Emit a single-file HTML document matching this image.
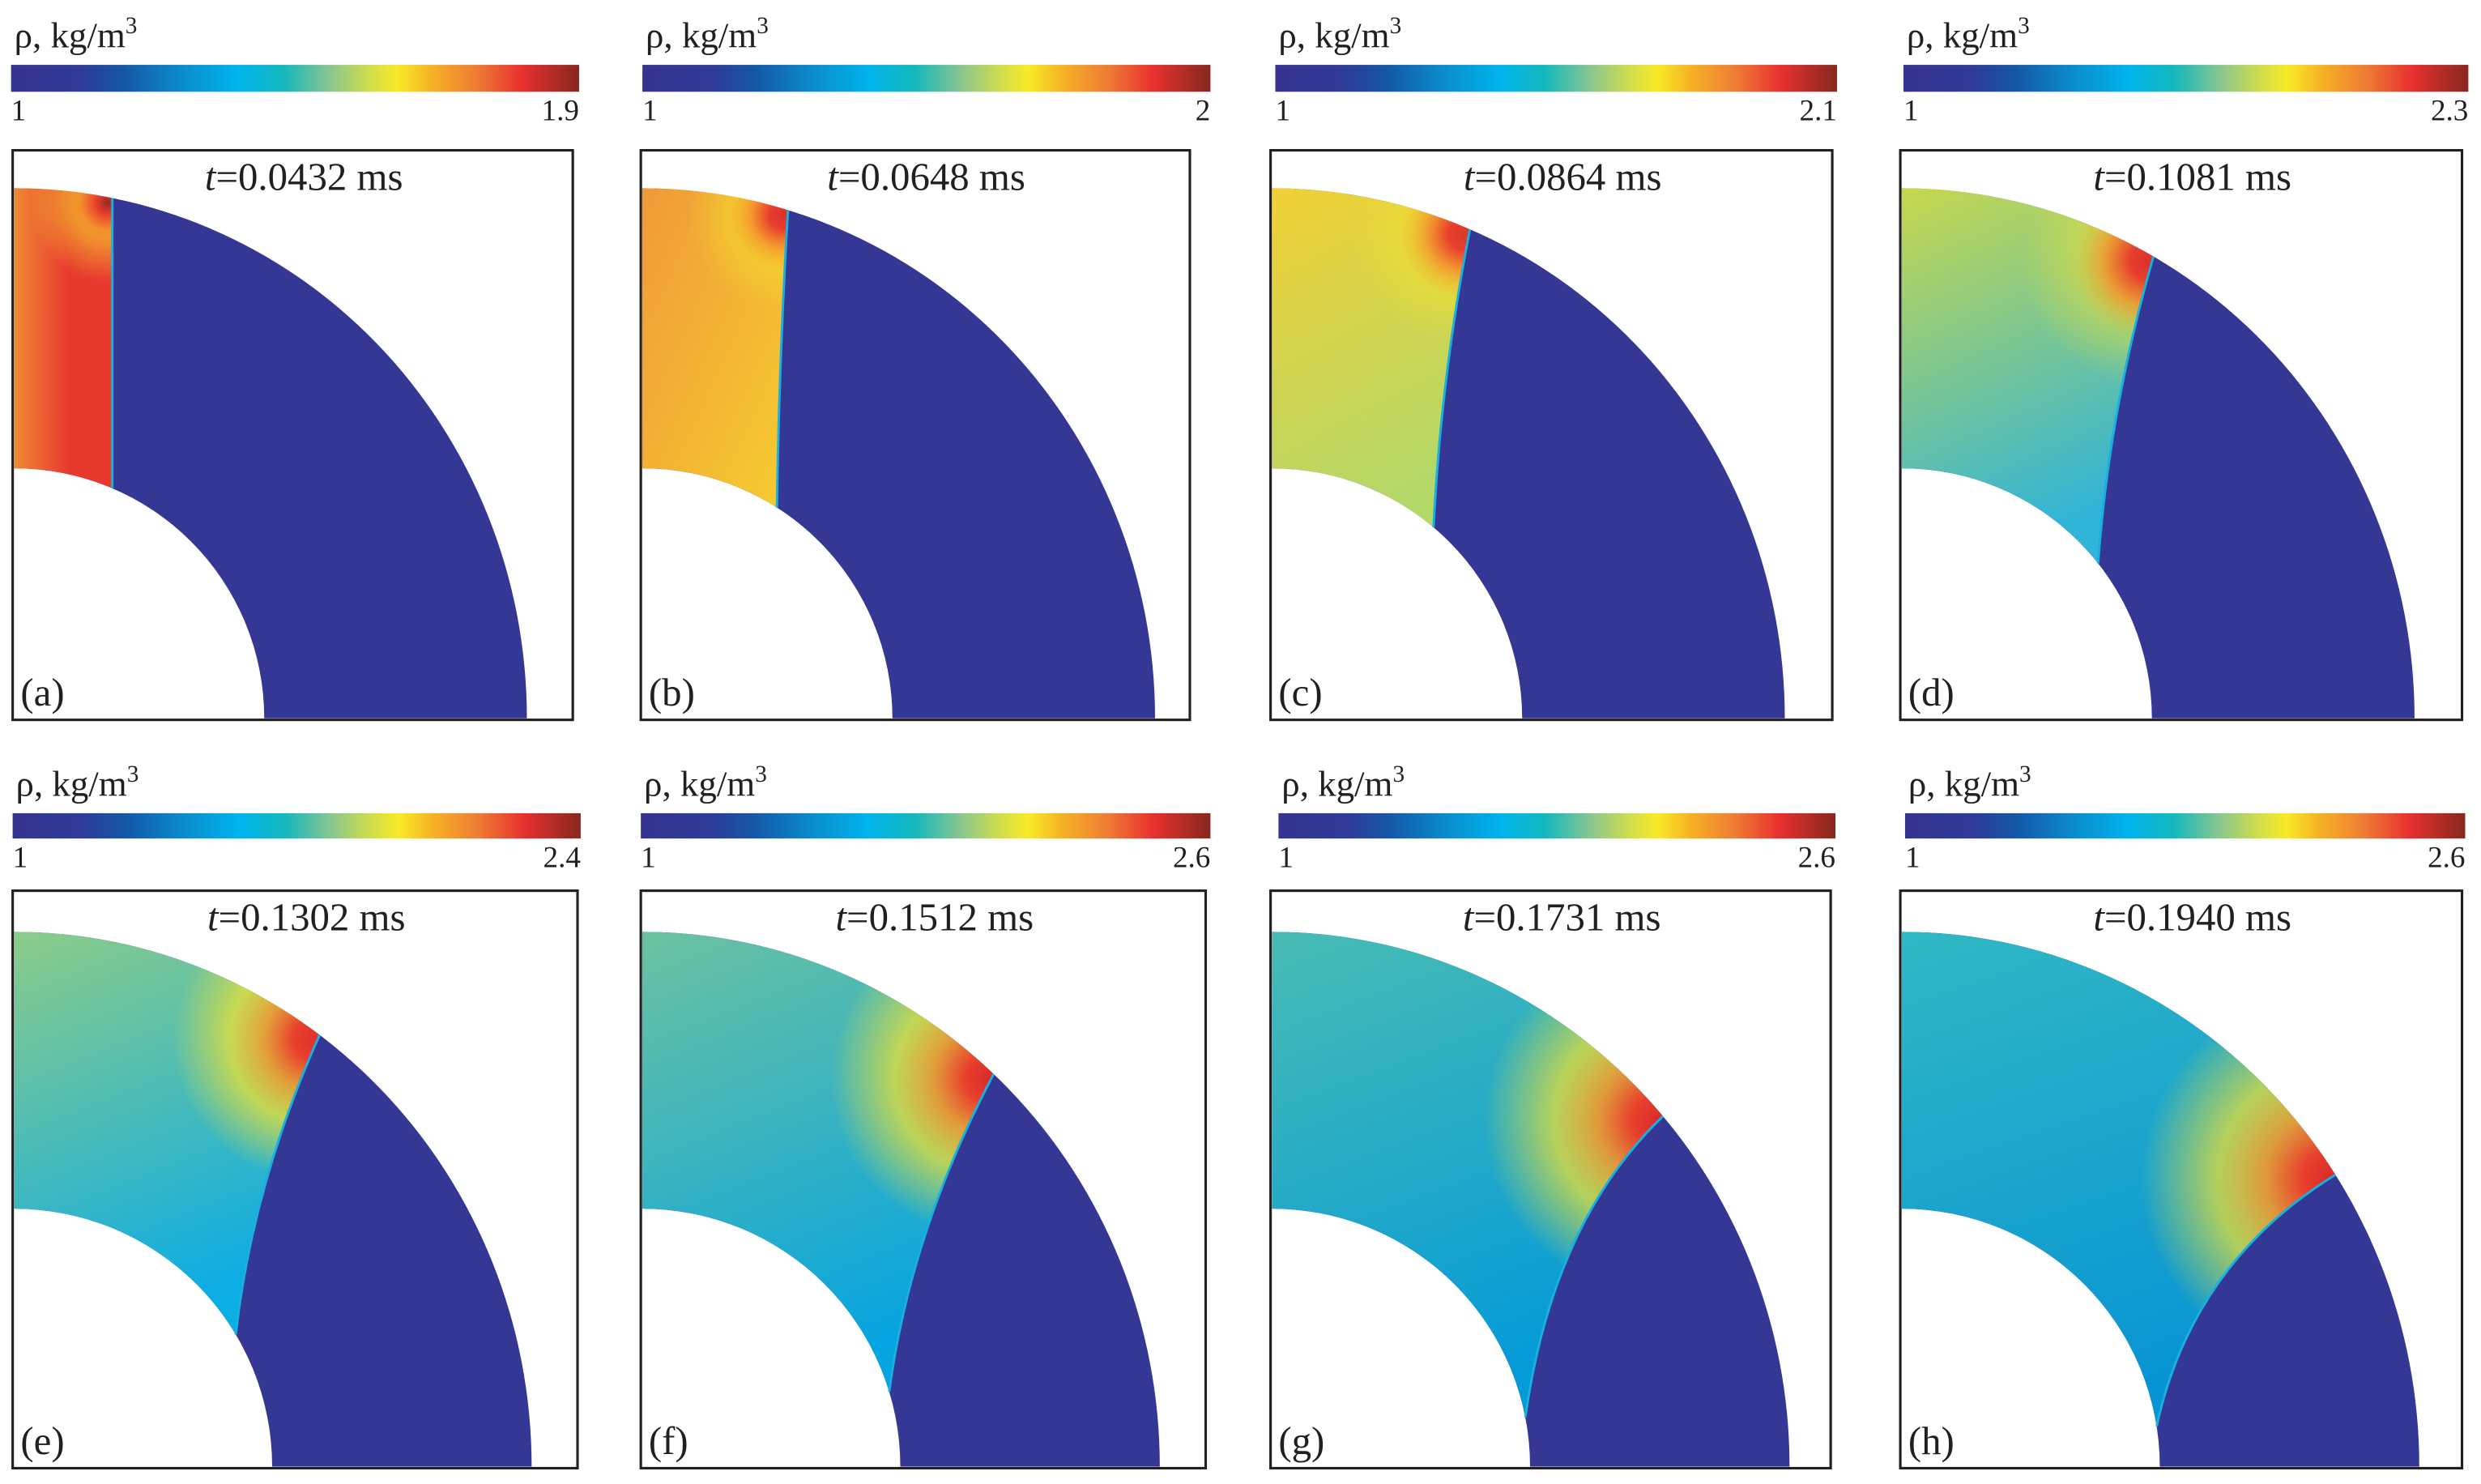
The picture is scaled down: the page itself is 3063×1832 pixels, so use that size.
<!DOCTYPE html>
<html><head><meta charset="utf-8"><style>
html,body{margin:0;padding:0;background:#fff;}
svg{display:block;}
svg text{font-family:"Liberation Serif","DejaVu Serif","Times New Roman",serif;}
</style></head><body>
<svg id="fig" xmlns="http://www.w3.org/2000/svg" width="3063" height="1832" viewBox="0 0 1568 938" preserveAspectRatio="none" style="font-family:'Liberation Serif','DejaVu Serif','Times New Roman',serif" fill="#231f20">
<defs>
<linearGradient id="jet" x1="0" y1="0" x2="1" y2="0">
<stop offset="0" stop-color="#35348f"/><stop offset="0.12" stop-color="#2f3a98"/><stop offset="0.2" stop-color="#1458a6"/>
<stop offset="0.3" stop-color="#0a8ccc"/><stop offset="0.4" stop-color="#00b4ec"/><stop offset="0.48" stop-color="#14b8bc"/>
<stop offset="0.56" stop-color="#88c690"/><stop offset="0.63" stop-color="#cfdd4c"/><stop offset="0.68" stop-color="#f8ea26"/>
<stop offset="0.74" stop-color="#f6b224"/><stop offset="0.82" stop-color="#ee7c34"/><stop offset="0.9" stop-color="#e8302e"/>
<stop offset="1" stop-color="#86281f"/>
</linearGradient>
</defs>
<g id="panels"></g>
</svg>
<script>
const labels=['(a)','(b)','(c)','(d)','(e)','(f)','(g)','(h)'];
const times=['0.0432','0.0648','0.0864','0.1081','0.1302','0.1512','0.1731','0.1940'];
const cbMin=['1','1','1','1','1','1','1','1'];
const cbMax=['1.9','2','2.1','2.3','2.4','2.6','2.6','2.6'];
const shockOuterDx=[62,92,125,159,193,222,247,274];
const shockInnerDx=[62,85,102,124,140,156,160,161];
const fieldTop=['#ef8a35','#f09a38','#f2d034','#c8d84c','#8ccc88','#6cc2a0','#48bcb4','#30b8c4'];
const fieldBottom=['#e8392f','#f6cc30','#b4d868','#30b4d8','#0cace4','#06a4e0','#049ad8','#0894d4'];
const hotColor=['#9a2626','#d8302c','#d83a2c','#d8302c','#e0302c','#d82a2a','#d82a2a','#d82a2a'];
const boxes=[[8,95,354,360],[405,95,347,360],[803,95,355,360],[1201,95,355,360],[8,563,357,365],[405,563,357,365],[803,563,354,365],[1201,563,355,365]];
const cbars=[[7,41,359,17],[406,41,359,17],[806,41,355,17],[1203,41,357,17],[8,514,359,16],[405,514,360,16],[808,514,352,16],[1204,514,354,16]];
const NS='http://www.w3.org/2000/svg';
const FONT="'Liberation Serif','DejaVu Serif','Times New Roman',serif";
const root=document.getElementById('panels');
const defs=document.querySelector('defs');
function mk(tag,attrs,parent){const e=document.createElementNS(NS,tag);for(const k in attrs)e.setAttribute(k,attrs[k]);if(tag==='text')e.setAttribute('style','font-family:'+FONT);(parent||root).appendChild(e);return e;}
for(let i=0;i<8;i++){
  const [bx,by,bw,bh]=boxes[i];const [cx0,cy0,cw,ch]=cbars[i];
  const g=mk('g',{});
  
  
  const lt=mk('text',{x:cx0+2,y:cy0-11,'font-size':23},g);
  lt.innerHTML='ρ, kg/m<tspan font-size="15" dy="-9">3</tspan>';
  
  
  const cb=mk('rect',{x:cx0,y:cy0,width:cw,height:ch,fill:'url(#jet)'},g);
  
  
  const t1=mk('text',{x:cx0,y:cy0+ch+18,'font-size':19},g);t1.textContent=cbMin[i];
  
  
  const t2=mk('text',{x:cx0+cw,y:cy0+ch+18,'font-size':19,'text-anchor':'end'},g);t2.textContent=cbMax[i];
  
  
  const row=i<4?0:1;
  const cx=bx+1, cy=by+bh-1;
  const rin=row?163:158, rox=row?327:324, roy=row?338:335;
  const oyAt=dx=>cy-roy*Math.sqrt(Math.max(0,1-(dx/rox)**2));
  const iyAt=dx=>cy-Math.sqrt(Math.max(0,rin*rin-dx*dx));
  const ann=`M${cx},${cy-roy} A${rox},${roy} 0 0 1 ${cx+rox},${cy} L${cx+rin},${cy} A${rin},${rin} 0 0 0 ${cx},${cy-rin} Z`;
  const a=mk('path',{d:ann,fill:'#353795'},g);
  
  
  const sox=shockOuterDx[i], sixd=Math.min(shockInnerDx[i],rin-1);
  const P1=[cx+sox,oyAt(sox)], P2=[cx+sixd,iyAt(sixd)];
  const ctrl=[P2[0]+(P1[0]-P2[0])*0.2, P1[1]+(P2[1]-P1[1])*(i>5?0.35:0.5)];
  const sh=`M${cx},${cy-roy} A${rox},${roy} 0 0 1 ${P1[0]},${P1[1]} Q${ctrl[0]},${ctrl[1]} ${P2[0]},${P2[1]} A${rin},${rin} 0 0 0 ${cx},${cy-rin} Z`;
  const lg=mk('linearGradient',{id:'lg'+i,x1:0,y1:0,x2:i<2?1:0.3,y2:i===0?0:1},defs);
  mk('stop',{offset:0,'stop-color':fieldTop[i]},lg);mk('stop',{offset:i===0?0.55:1,'stop-color':fieldBottom[i]},lg);
  const s=mk('path',{d:sh,fill:'url(#lg'+i+')'},g);
  
  
  const rg=mk('radialGradient',{id:'rg'+i,cx:P1[0]-3,cy:P1[1]+3,r:50+i*10,gradientUnits:'userSpaceOnUse'},defs);
  mk('stop',{offset:0,'stop-color':hotColor[i]},rg);
  mk('stop',{offset:0.15,'stop-color':'#e8402c'},rg);
  mk('stop',{offset:0.35,'stop-color':'#f49a2c','stop-opacity':0.9},rg);
  mk('stop',{offset:0.6,'stop-color':'#f6e42c','stop-opacity':i>3?0.7:0.4},rg);
  mk('stop',{offset:1,'stop-color':'#f6e42c','stop-opacity':0},rg);
  const h=mk('path',{d:sh,fill:'url(#rg'+i+')'},g);
  
  
  const sl=mk('path',{d:`M${P1[0]},${P1[1]} Q${ctrl[0]},${ctrl[1]} ${P2[0]},${P2[1]}`,fill:'none',stroke:'#18b0e0','stroke-width':1.5},g);
  
  
  const bxr=mk('rect',{x:bx,y:by,width:bw,height:bh,fill:'none',stroke:'#231f20','stroke-width':1.6},g);
  
  
  const tt=mk('text',{x:bx+bw*0.52,y:by+25,'font-size':25,'text-anchor':'middle'},g);
  tt.innerHTML='<tspan font-style="italic">t</tspan>=' + times[i] + ' ms';
  
  
  const pl=mk('text',{x:bx+5,y:by+bh-9,'font-size':25},g);pl.textContent=labels[i];
  
  
}
</script>
</body></html>
